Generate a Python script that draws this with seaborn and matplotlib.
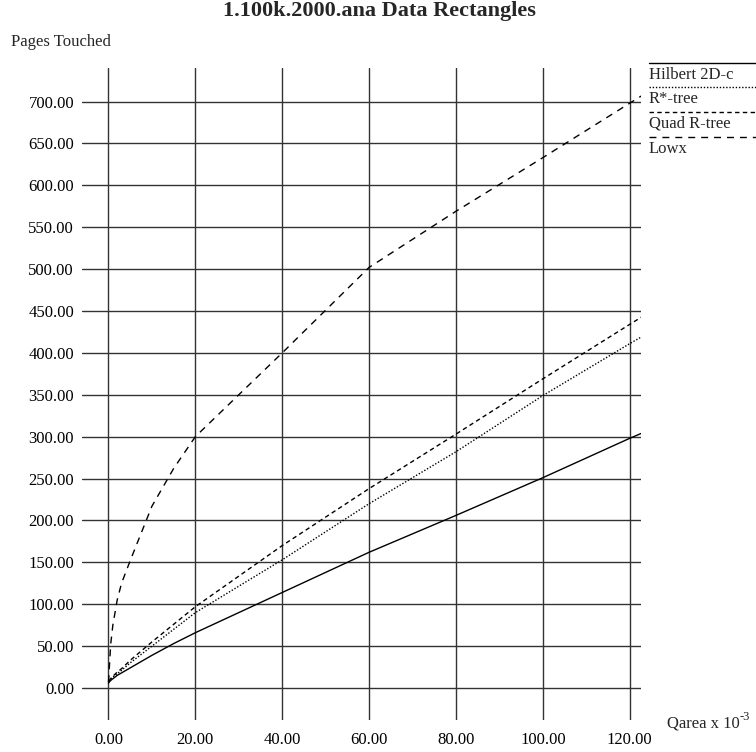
import pandas as pd
import seaborn as sns
import matplotlib.pyplot as plt
from matplotlib.lines import Line2D

# values
qarea = [0, 0.5, 1, 2, 3, 5, 10, 15, 20, 40, 60, 80, 100, 120, 125]
hilbert = [6, 9, 11, 15, 18, 24, 39, 53, 66, 114, 162, 206, 251, 298, 309]
rstar = [8, 11, 13, 17, 21, 30, 50, 70, 90, 153, 220, 282, 349, 411, 426]
quad = [8, 11, 14, 19, 23, 33, 55, 76, 97, 170, 238, 303, 369, 434, 450]
lowx = [7, 52, 75, 105, 125, 152, 217, 262, 300, 400, 502, 569, 633, 698, 714]

methods = ["Hilbert 2D-c", "R*-tree", "Quad R-tree", "Lowx"]
series = [hilbert, rstar, quad, lowx]
dash_styles = {"Hilbert 2D-c": "", "R*-tree": (1, 1.3),
               "Quad R-tree": (3.2, 2.4), "Lowx": (5, 4.3)}

xticks = [0, 20, 40, 60, 80, 100, 120]
yticks = list(range(0, 701, 50))

df = pd.concat([pd.DataFrame({"Qarea": qarea, "Pages": s, "Method": m})
                for m, s in zip(methods, series)], ignore_index=True)

sns.set_style("white")
plt.rcParams['font.family'] = ['Liberation Serif', 'DejaVu Serif']

W, H = 756, 752
fig = plt.figure(figsize=(W / 100, H / 100), dpi=100)
ax = fig.add_axes([81.7 / W, 1 - 720 / H, (641 - 81.7) / W, (720 - 68) / H])

sns.lineplot(data=df, x="Qarea", y="Pages", style="Method", style_order=methods,
             dashes=dash_styles, color="black", linewidth=1.0, legend=False,
             ax=ax, zorder=3)

ax.set_xlim(-6.17, 122.6)
ax.set_ylim(-38.2, 740)
ax.set_xticks(xticks)
ax.set_yticks(yticks)
ax.set_xticklabels([f"{v:.2f}" for v in xticks])
ax.set_yticklabels([f"{v:.2f}" for v in yticks])
ax.tick_params(axis="both", length=0, labelsize=12, colors="black")
ax.tick_params(axis="y", pad=5.5)
ax.tick_params(axis="x", pad=9)
ax.grid(True, color="0.2", linewidth=1.0)
for sp in ax.spines.values():
    sp.set_visible(False)
ax.set_xlabel("")
ax.set_ylabel("")

fig.text(379 / W, 1 - 11 / H, "1.100k.2000.ana Data Rectangles", ha="center",
         va="center", fontsize=16, fontweight="bold")
fig.text(11 / W, 1 - 46 / H, "Pages Touched", ha="left", va="baseline", fontsize=12)

# x axis label with superscript
lab = fig.text(667 / W, 1 - 727 / H, "Qarea x 10", ha="left", va="baseline", fontsize=12)
r = fig.canvas.get_renderer()
bb = lab.get_window_extent(renderer=r)
fig.text(bb.x1 / W, 1 - 720 / H, "-3", ha="left", va="baseline", fontsize=9)

# legend: line above each name
leg_lines = [63, 87, 112, 137]
for m, yl in zip(methods, leg_lines):
    d = dash_styles[m]
    ln = Line2D([649 / W, 1.0], [1 - yl / H, 1 - yl / H], transform=fig.transFigure,
                color="black", linewidth=1.0)
    if d:
        ln.set_dashes(d)
    fig.add_artist(ln)
    fig.text(649 / W, 1 - (yl + 16) / H, m, ha="left", va="baseline", fontsize=12)

fig.savefig("out.png", dpi=100)
